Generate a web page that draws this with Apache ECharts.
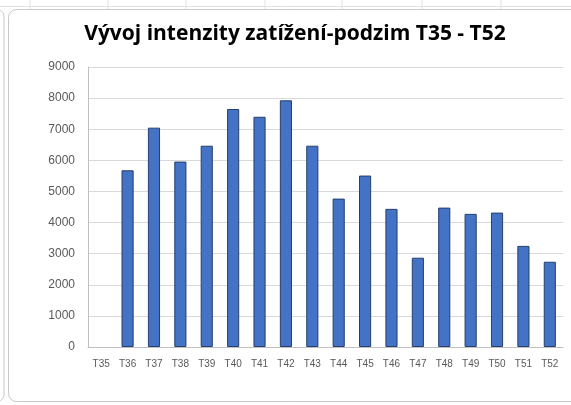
<!DOCTYPE html>
<html>
<head>
<meta charset="utf-8">
<script src="https://cdn.jsdelivr.net/npm/echarts@6/dist/echarts.min.js"></script>
<style>
  html, body { margin: 0; padding: 0; background: #ffffff; }
  #main { width: 571px; height: 405px; }
</style>
</head>
<body>
<div id="main"></div>
<script>
// data
var weeks = ['T35','T36','T37','T38','T39','T40','T41','T42','T43','T44','T45','T46','T47','T48','T49','T50','T51','T52'];
var intensity = [0, 5680, 7050, 5960, 6470, 7650, 7400, 7930, 6470, 4770, 5510, 4440, 2870, 4480, 4280, 4320, 3250, 2740];
var yTicks = [0, 1000, 2000, 3000, 4000, 5000, 6000, 7000, 8000, 9000];

var myChart = echarts.init(document.getElementById('main'));

// spreadsheet cells peeking out above the chart
var sheetCols = [30, 108, 186, 265, 342, 422, 501];
var deco = [];
sheetCols.forEach(function (x) {
    deco.push({ type: 'line', shape: { x1: x, y1: 0, x2: x, y2: 9 }, style: { stroke: '#e2e2e2', lineWidth: 1 }, z: -1 });
});
deco.push({ type: 'line', shape: { x1: 0, y1: 6.5, x2: 571, y2: 6.5 }, style: { stroke: '#e2e2e2', lineWidth: 1 }, z: -1 });
// neighbouring chart edge on the left
deco.push({ type: 'rect', shape: { x: -30, y: 10, width: 34, height: 391, r: 6 }, style: { fill: '#fff', stroke: '#c8c8c8', lineWidth: 1 }, z: -1 });
// chart area frame
deco.push({ type: 'rect', shape: { x: 8.5, y: 9.5, width: 600, height: 392, r: 8 }, style: { fill: '#fff', stroke: '#c8c8c8', lineWidth: 1 }, z: -1 });

// empty week gets no outline
var barData = intensity.map(function (v) {
    return v === 0 ? { value: v, itemStyle: { borderWidth: 0 } } : v;
});

var option = {
    backgroundColor: '#ffffff',
    animation: false,
    graphic: deco,
    title: {
        text: 'Vývoj intenzity zatížení-podzim T35 - T52',
        left: 290,
        textAlign: 'center',
        top: 19,
        textStyle: {
            fontFamily: 'Open Sans',
            fontWeight: 'bold',
            fontSize: 21,
            color: '#000000'
        }
    },
    grid: {
        left: 88,
        right: 8,
        top: 67,
        bottom: 58
    },
    xAxis: {
        type: 'category',
        data: weeks,
        axisLine: { show: true, lineStyle: { color: '#c0c0c0', width: 1 } },
        axisTick: { show: false },
        axisLabel: {
            color: '#595959',
            fontFamily: 'Liberation Sans',
            fontSize: 10,
            margin: 12,
            interval: 0
        }
    },
    yAxis: {
        type: 'value',
        min: yTicks[0],
        max: yTicks[yTicks.length - 1],
        interval: 1000,
        axisLine: { show: true, lineStyle: { color: '#c0c0c0', width: 1 } },
        axisTick: { show: false },
        splitLine: { lineStyle: { color: '#d9d9d9', width: 1 } },
        axisLabel: {
            color: '#595959',
            fontFamily: 'Liberation Sans',
            fontSize: 12,
            margin: 13,
            formatter: function (v) { return String(v); }
        }
    },
    series: [{
        type: 'bar',
        data: barData,
        barWidth: '46%',
        itemStyle: {
            color: '#4472c4',
            borderColor: '#263f6e',
            borderWidth: 1
        }
    }]
};

myChart.setOption(option);
</script>
</body>
</html>
